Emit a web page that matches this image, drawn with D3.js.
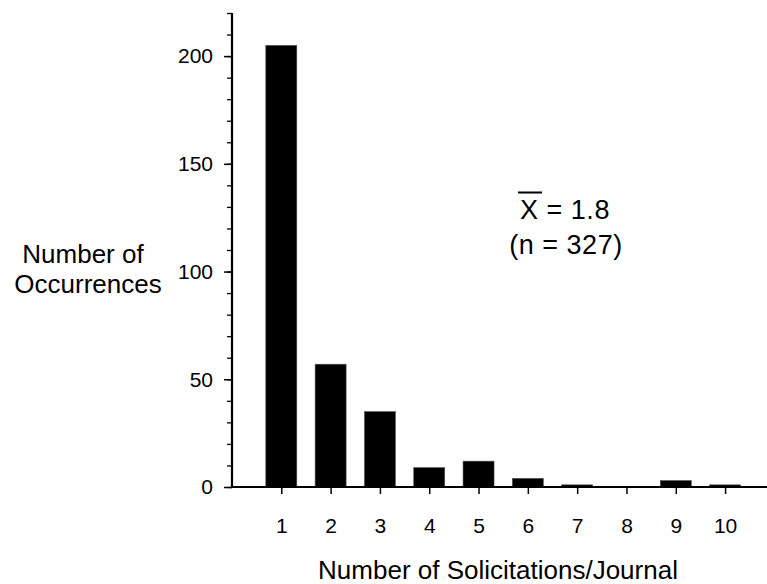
<!DOCTYPE html>
<html><head><meta charset="utf-8">
<script src="https://cdn.jsdelivr.net/npm/d3@7"></script>
<style>body{margin:0;background:#fff}svg{display:block;font-family:Arial,"Liberation Sans",sans-serif}</style>
</head><body>
<svg id="c" width="767" height="584"></svg>
<script>
const categories = [1,2,3,4,5,6,7,8,9,10];
const occurrences = [205,57,35,9,12,4,1,0,3,1];
const yTicks = [0,50,100,150,200];
const xTitle = "Number of Solicitations/Journal";
const yTitle = ["Number of","Occurrences"];
const meanLabel = "X = 1.8";
const nLabel = "(n = 327)";

const svg = d3.select("#c");
const x = d3.scaleLinear().domain([0,10.85]).range([232,767]);
const y = d3.scaleLinear().domain([0,220]).range([487,13]);
const bw = 31;

function styleTicks(g){
  g.attr("font-size",21).attr("font-family","Arial, Liberation Sans, sans-serif");
  g.selectAll(".tick text").style("font-size","21px").attr("font-size",21).attr("fill","#000");
}

svg.append("g").selectAll("rect").data(categories).join("rect")
  .attr("x", d=>x(d)-bw/2).attr("width", bw)
  .attr("y", (d,i)=>y(occurrences[i])).attr("height",(d,i)=>y(0)-y(occurrences[i]))
  .attr("fill","#000").attr("stroke","#555").attr("stroke-width",0.6);

// y axis minor ticks
const ya = svg.append("g").attr("transform","translate(232,0)")
  .call(d3.axisLeft(y).tickValues(d3.range(0,221,10)).tickSize(5).tickFormat(""));
ya.select(".domain").remove();
ya.selectAll(".tick line").attr("stroke","#000").attr("stroke-width",1.3);
// y axis major ticks
const ym = svg.append("g").attr("transform","translate(232,0)")
  .call(d3.axisLeft(y).tickValues(yTicks).tickSize(8).tickPadding(11));
styleTicks(ym);
ym.select(".domain").remove();
ym.selectAll(".tick line").attr("stroke","#000").attr("stroke-width",1.5);
svg.append("line").attr("x1",232).attr("x2",232).attr("y1",y(220)).attr("y2",y(0)+1)
  .attr("stroke","#000").attr("stroke-width",2.2);

// x axis
const xa = svg.append("g").attr("transform","translate(0,487)")
  .call(d3.axisBottom(x).tickValues(categories).tickSize(7).tickPadding(24).tickFormat(d3.format("d")));
styleTicks(xa);
xa.select(".domain").remove();
xa.selectAll(".tick line").attr("stroke","#000").attr("stroke-width",1.5);
svg.append("line").attr("x1",231).attr("x2",767).attr("y1",487).attr("y2",487)
  .attr("stroke","#000").attr("stroke-width",2);

// titles
svg.append("text").attr("x",498).attr("y",579).attr("text-anchor","middle")
  .attr("font-size",26).text(xTitle);
svg.append("text").attr("text-anchor","middle").attr("font-size",26)
  .selectAll("tspan").data(yTitle).join("tspan")
  .attr("x",(d,i)=>i?88:83).attr("y",(d,i)=>263+i*30).text(d=>d);

// annotation
svg.append("text").attr("x",565).attr("y",219).attr("text-anchor","middle")
  .attr("font-size",27).attr("letter-spacing",0.5).text(meanLabel);
svg.append("line").attr("x1",518).attr("x2",542).attr("y1",192.5).attr("y2",192.5)
  .attr("stroke","#000").attr("stroke-width",2);
svg.append("text").attr("x",566).attr("y",254).attr("text-anchor","middle")
  .attr("font-size",27).attr("letter-spacing",0.5).text(nLabel);
</script>
</body></html>
